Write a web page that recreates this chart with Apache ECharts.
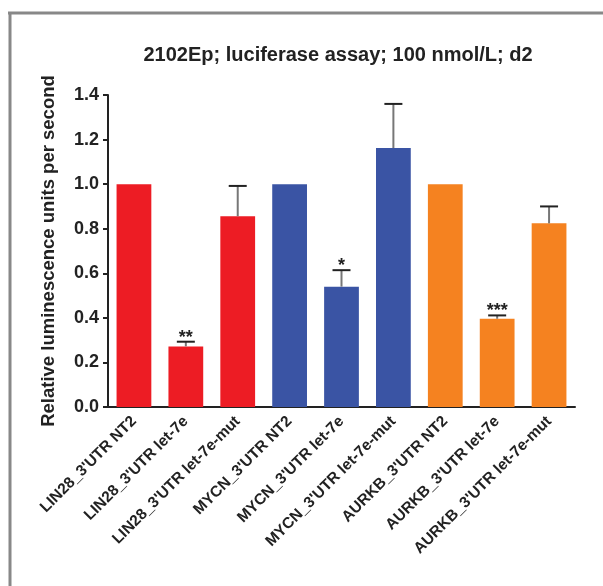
<!DOCTYPE html>
<html>
<head>
<meta charset="utf-8">
<script src="https://cdn.jsdelivr.net/npm/echarts@6/dist/echarts.min.js"></script>
<style>
  html, body { margin: 0; padding: 0; background: #fff; }
  #main { width: 603px; height: 586px; }
</style>
</head>
<body>
<div id="main"></div>
<script>
// categories and values
var categories = [
  "LIN28_3'UTR NT2", "LIN28_3'UTR let-7e", "LIN28_3'UTR let-7e-mut",
  "MYCN_3'UTR NT2", "MYCN_3'UTR let-7e", "MYCN_3'UTR let-7e-mut",
  "AURKB_3'UTR NT2", "AURKB_3'UTR let-7e", "AURKB_3'UTR let-7e-mut"
];
var values   = [1.0, 0.272, 0.856, 1.0, 0.54, 1.162, 1.0, 0.396, 0.824];
var errTops  = [null, 0.293, 0.992, null, 0.614, 1.36, null, 0.411, 0.9];
var stars    = ['', '**', '', '', '*', '', '', '***', ''];
var barColors = ['#ED1C24', '#ED1C24', '#ED1C24', '#3A54A4', '#3A54A4', '#3A54A4', '#F58220', '#F58220', '#F58220'];
var yTicks = { min: 0, max: 1.4, step: 0.2 };

var chart = echarts.init(document.getElementById('main'));
var font = 'Liberation Sans, Arial, Helvetica, sans-serif';

var barData = values.map(function (v, i) {
  return { value: v, itemStyle: { color: barColors[i] } };
});

var errData = [];
values.forEach(function (v, i) {
  if (errTops[i] != null) errData.push([i, v, errTops[i], stars[i]]);
});

function renderErr(params, api) {
  var i = api.value(0);
  var low = api.coord([i, api.value(1)]);
  var high = api.coord([i, api.value(2)]);
  var half = 9;
  var kids = [
    { type: 'line', shape: { x1: low[0], y1: low[1], x2: high[0], y2: high[1] },
      style: { stroke: '#777', lineWidth: 2 } },
    { type: 'line', shape: { x1: high[0] - half, y1: high[1], x2: high[0] + half, y2: high[1] },
      style: { stroke: '#222', lineWidth: 2 } }
  ];
  var s = errData[params.dataIndex][3];
  if (s) {
    kids.push({ type: 'text', x: high[0], y: high[1] + 5,
      style: { text: s, fill: '#222', font: 'bold 18px ' + font, align: 'center', verticalAlign: 'bottom' } });
  }
  return { type: 'group', children: kids };
}

chart.setOption({
  backgroundColor: '#fff',
  animation: false,
  title: {
    text: "2102Ep; luciferase assay; 100 nmol/L; d2",
    left: 333, top: 40, textAlign: 'center',
    textStyle: { fontFamily: font, fontSize: 20, fontWeight: 'bold', color: '#222' }
  },
  grid: { left: 108, right: 28, top: 95, bottom: 179 },
  xAxis: {
    type: 'category',
    data: categories,
    axisLine: { lineStyle: { color: '#222', width: 2 } },
    axisTick: { alignWithLabel: true, length: 5, lineStyle: { color: '#222', width: 2 } },
    axisLabel: { rotate: 45, margin: 12, interval: 0, color: '#222',
      fontFamily: font, fontSize: 15.5, fontWeight: 'bold' }
  },
  yAxis: {
    type: 'value',
    min: yTicks.min, max: yTicks.max, interval: yTicks.step,
    name: 'Relative luminescence units per second',
    nameLocation: 'middle', nameGap: 50,
    nameTextStyle: { fontFamily: font, fontSize: 18.5, fontWeight: 'bold', color: '#222' },
    axisLine: { show: true, lineStyle: { color: '#222', width: 2 } },
    axisTick: { show: true, length: 5, lineStyle: { color: '#222', width: 2 } },
    splitLine: { show: false },
    axisLabel: { margin: 9, color: '#222', fontFamily: font, fontSize: 18, fontWeight: 'bold',
      formatter: function (v) { return v.toFixed(1); } }
  },
  series: [
    { type: 'bar', data: barData, barWidth: '67%' },
    { type: 'custom', data: errData, renderItem: renderErr, z: 5 }
  ],
  graphic: [
    { type: 'line', shape: { x1: 8, y1: 13, x2: 603, y2: 13 }, style: { stroke: '#888', lineWidth: 3 } },
    { type: 'line', shape: { x1: 10, y1: 12, x2: 10, y2: 586 }, style: { stroke: '#888', lineWidth: 3 } }
  ]
});
</script>
</body>
</html>
